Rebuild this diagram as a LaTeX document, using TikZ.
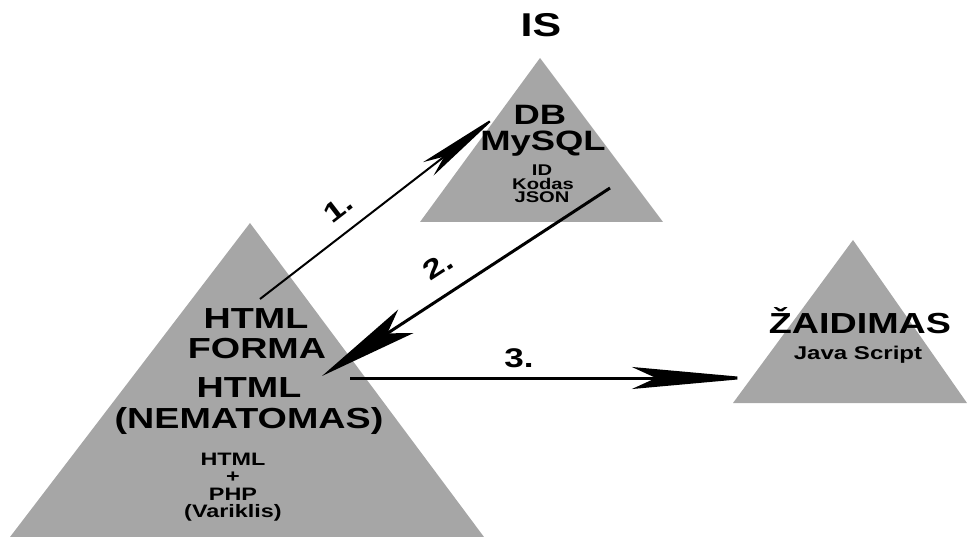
\documentclass[tikz,border=0pt]{standalone}
\usepackage{fontspec}
\setmainfont{Liberation Sans}[FakeStretch=1.3]
\usetikzlibrary{arrows.meta}
\definecolor{trig}{RGB}{166,166,166}
\newcommand\fsz[1]{\fontsize{#1}{#1}\selectfont\bfseries}
\begin{document}
\begin{tikzpicture}[x=1pt,y=-1pt,
  tri/.style={fill=trig,draw=none},
  txt/.style={inner sep=0pt,anchor=base,text=black},
  big/.style={txt,font=\fsz{29}},
  small/.style={txt,font=\fsz{18}},
  tiny/.style={txt,font=\fsz{15.5}},
  num/.style={inner sep=0pt,font=\fsz{27}},
  conn/.style={line width=#1,line cap=butt}
]
\useasboundingbox (0,0) rectangle (969,537);
% triangles
\fill[tri] (540,58) -- (420,222) -- (663,222) -- cycle;
\fill[tri] (250,223) -- (10,537) -- (484,537) -- cycle;
\fill[tri] (853,240) -- (733,403) -- (967,403) -- cycle;
% IS
\node[txt,font=\fsz{33}] (is) at (541,37) {IS};
\node[txt,font=\fsz{28}] (db) at (540,125) {DB};
\node[txt,font=\fsz{28}] (mysql) at (543,151) {MySQL};
\node[tiny] (id) at (542,176) {ID};
\node[tiny] (kodas) at (543,189.5) {Kodas};
\node[tiny] (json) at (542,203) {JSON};
% big triangle
\node[big] (html1) at (256,328) {HTML};
\node[big] (forma) at (257,358) {FORMA};
\node[big] (html2) at (249,397) {HTML};
\node[big] (nemat) at (249,428) {(NEMATOMAS)};
\node[small] (html3) at (233,465) {HTML};
\node[small] (plus) at (233,482) {+};
\node[small] (php) at (233,500) {PHP};
\node[small] (varik) at (233,517) {(Variklis)};
% game
\node[big] (zaid) at (860,333) {ŽAIDIMAS};
\node[txt,font=\fsz{18.5}] (js) at (858,359) {Java Script};
% connector endpoints
\coordinate (a1s) at (260,299);
\coordinate (a1e) at (498,115);
\coordinate (a2s) at (610,188);
\coordinate (a2e) at (322,376);
\coordinate (a3s) at (350,378);
\coordinate (a3e) at (754,378);
\draw[conn=2pt,-{Stealth[length=88pt,width=17pt,inset=20pt]}] (a1s) -- (a1e);
\draw[conn=3pt,-{Stealth[length=100pt,width=28pt,inset=22pt]}] (a2s) -- (a2e);
\draw[conn=3pt,-{Stealth[length=122pt,width=22pt,inset=24pt]}] (a3s) -- (a3e);
% labels
\node[num,rotate=37.7] (l1) at (338,208) {1.};
\node[num,rotate=33] (l2) at (438,266) {2.};
\node[num,anchor=base] (l3) at (519,367) {3.};
\end{tikzpicture}
\end{document}
